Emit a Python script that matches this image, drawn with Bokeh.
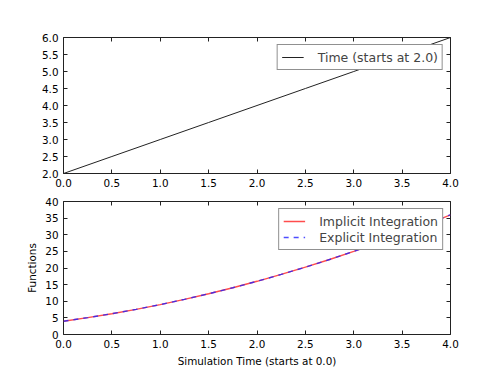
from bokeh.plotting import figure
from bokeh.layouts import column
from bokeh.models import (Range1d, FixedTicker, NumeralTickFormatter, LinearAxis, Legend,
                          LegendItem, CustomJSTickFormatter)
from bokeh.embed import file_html
from bokeh.resources import INLINE

# ---- data ----
t_time = [0.0, 0.5, 1.0, 1.5, 2.0, 2.5, 3.0, 3.5, 4.0]
time_vals = [2.0, 2.5, 3.0, 3.5, 4.0, 4.5, 5.0, 5.5, 6.0]

t_func = [0.0, 0.25, 0.5, 0.75, 1.0, 1.25, 1.5, 1.75, 2.0, 2.25, 2.5, 2.75, 3.0, 3.25, 3.5, 3.75, 4.0]
implicit_vals = [4.0, 5.06, 6.25, 7.56, 9.0, 10.56, 12.25, 14.06, 16.0, 18.06, 20.25, 22.56, 25.0, 27.56, 30.25, 33.06, 36.0]
explicit_vals = [4.0, 5.06, 6.25, 7.56, 9.0, 10.56, 12.25, 14.06, 16.0, 18.06, 20.25, 22.56, 25.0, 27.56, 30.25, 33.06, 36.0]

x_ticks = [0.0, 0.5, 1.0, 1.5, 2.0, 2.5, 3.0, 3.5, 4.0]
y1_ticks = [2.0, 2.5, 3.0, 3.5, 4.0, 4.5, 5.0, 5.5, 6.0]
y2_ticks = [0, 5, 10, 15, 20, 25, 30, 35, 40]

FONT = "DejaVu Sans"
TICK_FS = "10.4px"
LEG_FS = "12.5px"
FRAME = "#222222"


def style_axis(ax, ticks, fmt=None, labels=True):
    ax.ticker = FixedTicker(ticks=ticks)
    ax.axis_line_color = None
    ax.major_tick_in = 4
    ax.major_tick_out = 0
    ax.major_tick_line_color = FRAME
    ax.minor_tick_line_color = None
    ax.major_label_text_font = FONT
    ax.major_label_text_color = "black"
    if labels:
        if fmt is not None:
            ax.formatter = fmt
        ax.major_label_text_font_size = TICK_FS
        ax.major_label_standoff = 5
    else:
        ax.formatter = CustomJSTickFormatter(code="return '';")
        ax.major_label_text_font_size = "1px"
        ax.major_label_standoff = 0


def make_fig(height, top, bottom, yr, yticks, yfmt):
    p = figure(width=480, height=height, output_backend="svg", toolbar_location=None,
               x_range=Range1d(0, 4), y_range=Range1d(*yr),
               x_axis_location=None, y_axis_location=None,
               min_border_left=63, min_border_right=30,
               min_border_top=top, min_border_bottom=bottom,
               background_fill_color="white", border_fill_color="white")
    p.grid.visible = False
    p.outline_line_color = FRAME
    p.outline_line_width = 1
    xa = LinearAxis()
    style_axis(xa, x_ticks, NumeralTickFormatter(format="0.0"))
    p.add_layout(xa, "below")
    ya = LinearAxis()
    style_axis(ya, yticks, yfmt)
    p.add_layout(ya, "left")
    ra = LinearAxis()
    style_axis(ra, yticks, labels=False)
    p.add_layout(ra, "right")
    ta = LinearAxis()
    style_axis(ta, x_ticks, labels=False)
    p.add_layout(ta, "above")
    return p, xa, ya


def style_legend(leg):
    leg.location = "top_right"
    leg.margin = 7
    leg.padding = 4
    leg.spacing = 0
    leg.glyph_width = 22
    leg.glyph_height = 16
    leg.label_height = 16
    leg.label_standoff = 14
    leg.label_text_font = FONT
    leg.label_text_font_size = LEG_FS
    leg.border_line_color = FRAME
    leg.border_line_width = 1
    leg.background_fill_color = "white"
    leg.background_fill_alpha = 1.0


# ---- top plot ----
p1, _, _ = make_fig(194, 37, 21, (2, 6), y1_ticks, NumeralTickFormatter(format="0.0"))
r_time = p1.line(t_time, time_vals, line_color="#222222", line_width=1)
leg1 = Legend(items=[LegendItem(label="Time (starts at 2.0)", renderers=[r_time])])
style_legend(leg1)
p1.add_layout(leg1, "center")

# ---- bottom plot ----
p2, xa2, ya2 = make_fig(175, 7, 32, (0, 40), y2_ticks, None)
r_imp = p2.line(t_func, implicit_vals, line_color="#ff2020", line_alpha=0.8, line_width=1.4)
r_exp = p2.line(t_func, explicit_vals, line_color="#2020ff", line_alpha=0.8, line_width=1.4,
                line_dash="5 5")
leg2 = Legend(items=[LegendItem(label="Implicit Integration", renderers=[r_imp]),
                     LegendItem(label="Explicit Integration", renderers=[r_exp])])
style_legend(leg2)
p2.add_layout(leg2, "center")
xa2.axis_label = "Simulation Time (starts at 0.0)"
ya2.axis_label = "Functions"
for ax in (xa2, ya2):
    ax.axis_label_text_font = FONT
    ax.axis_label_text_font_size = TICK_FS
    ax.axis_label_text_font_style = "normal"
    ax.axis_label_text_color = "black"
    ax.axis_label_standoff = 4

layout = column(p1, p2, spacing=0)
open("out.html", "w").write(file_html(layout, INLINE))
